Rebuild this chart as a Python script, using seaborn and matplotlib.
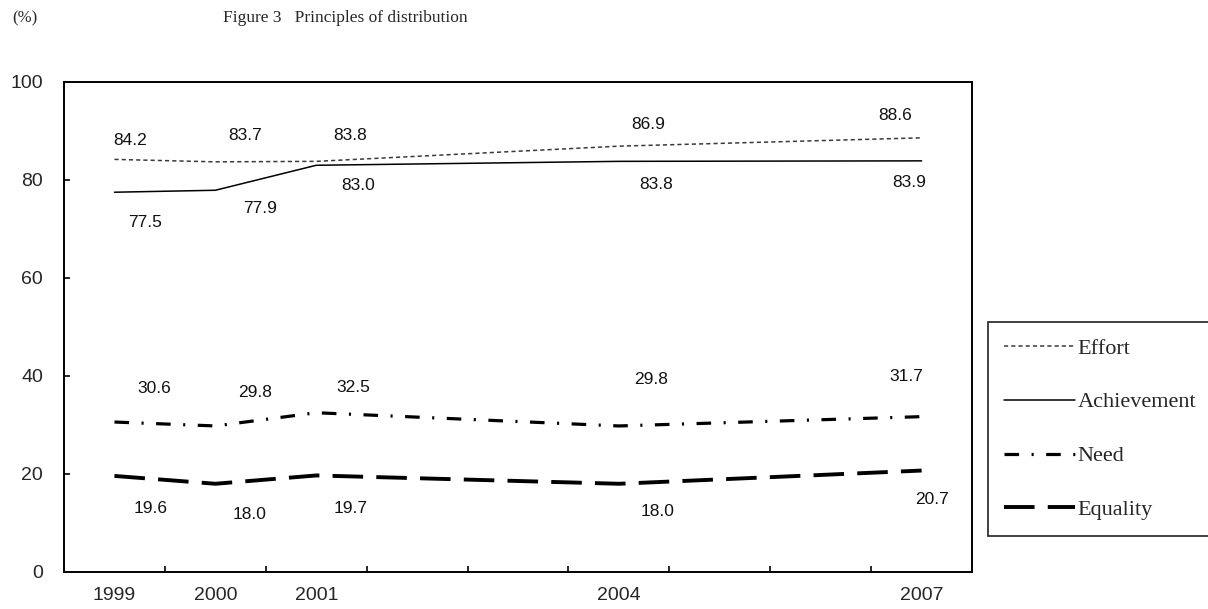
import matplotlib
matplotlib.use("Agg")
import matplotlib.pyplot as plt
import seaborn as sns
import pandas as pd

years = [1999, 2000, 2001, 2004, 2007]
effort = [84.2, 83.7, 83.8, 86.9, 88.6]
achievement = [77.5, 77.9, 83.0, 83.8, 83.9]
need = [30.6, 29.8, 32.5, 29.8, 31.7]
equality = [19.6, 18.0, 19.7, 18.0, 20.7]
series_names = ["Effort", "Achievement", "Need", "Equality"]

# label offsets in pixels (dx, dy) relative to each point, as placed in the original
label_offsets = {
    "Effort": [(16, 19), (30, 26), (34, 26), (29, 22), (-27, 22)],
    "Achievement": [(31, -30), (45, -18), (42, -20), (37, -23), (-12, -22)],
    "Need": [(40, 34), (40, 33), (37, 25), (32, 46), (-15, 40)],
    "Equality": [(36, -33), (34, -31), (34, -33), (39, -28), (10, -29)],
}

styles = {
    "Effort": dict(color="#3a3a3a", linewidth=1.1, linestyle=(0, (3.0, 2.2))),
    "Achievement": dict(color="black", linewidth=1.1, linestyle="-"),
    "Need": dict(color="black", linewidth=2.3, linestyle=(0, (10.5, 9.0, 1.5, 9.0))),
    "Equality": dict(color="black", linewidth=2.8, linestyle=(0, (22, 9.5))),
}

df = pd.DataFrame({"year": years, "Effort": effort, "Achievement": achievement,
                   "Need": need, "Equality": equality})

sns.set_style("white")
plt.rcParams["font.family"] = ["Liberation Sans", "DejaVu Sans"]
plt.rcParams["lines.scale_dashes"] = False

fig = plt.figure(figsize=(12.08, 6.09), dpi=100)
ax = fig.add_axes([0.053, 0.0608, 0.7517, 0.8046])

for name in series_names:
    sns.lineplot(data=df, x="year", y=name, ax=ax, label=name,
                 dash_capstyle="butt", **styles[name])
    for (x, y), (dx, dy) in zip(zip(df["year"], df[name]), label_offsets[name]):
        ax.annotate(f"{y:.1f}", (x, y), xytext=(dx, dy), textcoords="offset pixels",
                    ha="center", va="center", fontsize=12.5, color="#111111")

ax.set_xlim(1998.5, 2007.5)
ax.set_ylim(0, 100)
ax.set_xticks(years)
ax.set_xticklabels([str(y) for y in years])
ax.set_xticks([y + 0.5 for y in range(1999, 2007)], minor=True)
ax.tick_params(axis="x", which="major", length=0, pad=11, labelsize=14)
ax.tick_params(axis="x", which="minor", direction="in", length=4, width=1.2,
               bottom=True, color="black")
ax.set_yticks(range(0, 101, 20))
ax.tick_params(axis="y", direction="in", length=4.5, width=1.2, pad=15,
               labelsize=14, left=True, color="black")
ax.set_xlabel("")
ax.set_ylabel("")
for sp in ax.spines.values():
    sp.set_visible(True)
    sp.set_color("black")
    sp.set_linewidth(1.4)

leg = ax.legend(loc="upper left", bbox_to_anchor=(0.818, 0.4713),
                bbox_transform=fig.transFigure, frameon=True, fancybox=False,
                prop={"family": "Liberation Serif", "size": 16},
                handlelength=3.2, handletextpad=0.1, labelspacing=1.5,
                borderpad=0.72, borderaxespad=0)
leg.get_frame().set_edgecolor("black")
leg.get_frame().set_linewidth(1.3)

fig.text(0.021, 0.97, "(%)", family="Liberation Serif", fontsize=12,
         ha="center", va="center")
fig.text(0.286, 0.97, "Figure 3   Principles of distribution",
         family="Liberation Serif", fontsize=12.5, ha="center", va="center")

fig.savefig("out.png", dpi=100)
